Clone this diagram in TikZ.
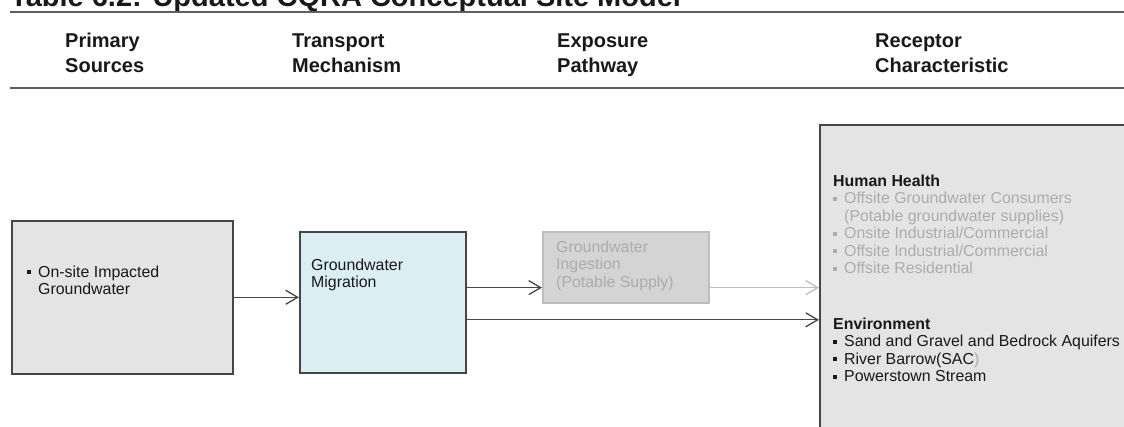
\documentclass[tikz,border=0pt]{standalone}
\usepackage{fontspec}
\setmainfont{Liberation Sans}
\usepackage{tikz}
\usetikzlibrary{arrows.meta, positioning}
\definecolor{boxGray}{RGB}{228, 228, 228}
\definecolor{edgeGray}{RGB}{70, 70, 70}
\definecolor{migBlue}{RGB}{219, 238, 244}
\definecolor{fadeFill}{RGB}{212, 212, 212}
\definecolor{fadeEdge}{RGB}{190, 190, 190}
\definecolor{fadeText}{RGB}{172, 172, 172}
\definecolor{ruleGray}{RGB}{95, 95, 95}
\definecolor{inkDark}{RGB}{25, 25, 25}
\newcommand{\bitem}{\makebox[11pt][l]{\raisebox{0.2em}{\rule{4pt}{4pt}}}}
\newcommand{\bgap}{\hspace*{11pt}}

\begin{document}
\begin{tikzpicture}[
    x=1pt, y=1pt,
    box/.style={rectangle, draw=edgeGray, line width=1.6pt, inner sep=0pt, anchor=north west},
    txt/.style={anchor=north west, inner sep=0pt, align=left, text=inkDark, font=\fontsize{15.9}{17.5}\selectfont},
    head/.style={anchor=north west, inner sep=0pt, align=left, text=inkDark, font=\fontsize{20}{25}\selectfont\bfseries},
    flow/.style={-{Straight Barb[length=12pt, width=14pt]}, line width=1.3pt, edgeGray},
    flow_faded/.style={flow, fadeEdge}
]
    \path[use as bounding box, clip] (0,0) rectangle (1124,-426);

    % Title and header rules
    \node[anchor=base west, inner sep=0pt, text=inkDark, font=\fontsize{29}{34}\selectfont\bfseries] (title) at (10,-6.7) {Table 6.2: Updated CQRA Conceptual Site Model};
    \draw[ruleGray, line width=2pt] (10,-11.5) -- (1124,-11.5);
    \draw[ruleGray, line width=2pt] (10,-88) -- (1124,-88);

    % Column headings
    \node[head] (hsrc) at (65,-33.2) {Primary\\Sources};
    \node[head] (htrans) at (292,-33.2) {Transport\\Mechanism};
    \node[head] (hexp) at (557,-33.2) {Exposure\\Pathway};
    \node[head] (hrec) at (875,-33.2) {Receptor\\Characteristic};

    % Boxes (left to right)
    \node[box, fill=boxGray, minimum width=221pt, minimum height=153pt] (src) at (11,-220) {};
    \node[box, fill=migBlue, minimum width=166pt, minimum height=141pt] (mig) at (299,-231) {};
    \node[box, fill=fadeFill, draw=fadeEdge, minimum width=166pt, minimum height=71pt] (ing) at (542,-231) {};
    \node[box, fill=boxGray, minimum width=330pt, minimum height=330pt] (rec) at (819,-124) {};

    % Box texts
    \node[txt, below right=45.5pt and 16pt of src.north west] (srctxt) {\bitem On-site Impacted\\\bgap Groundwater};
    \node[txt, below right=27.5pt and 12pt of mig.north west] (migtxt) {Groundwater\\Migration};
    \node[txt, text=fadeText, below right=9.5pt and 14pt of ing.north west] (ingtxt) {Groundwater\\Ingestion\\(Potable Supply)};
    \node[txt, below right=50.5pt and 14pt of rec.north west] (health) {
        \textbf{Human Health}\\
        \textcolor{fadeText}{\bitem Offsite Groundwater Consumers}\\
        \textcolor{fadeText}{\bgap(Potable groundwater supplies)}\\
        \textcolor{fadeText}{\bitem Onsite Industrial/Commercial}\\
        \textcolor{fadeText}{\bitem Offsite Industrial/Commercial}\\
        \textcolor{fadeText}{\bitem Offsite Residential}
    };
    \node[txt, below right=193.5pt and 14pt of rec.north west] (environ) {
        \textbf{Environment}\\
        \bitem Sand and Gravel and Bedrock Aquifers\\
        \bitem River Barrow(SAC\textcolor{fadeText}{)}\\
        \bitem Powerstown Stream
    };

    % Connectors
    \draw[flow] (src.east) -- (src.east -| mig.west);
    \draw[flow] ([yshift=16pt]ing.south west -| mig.east) -- ([yshift=16pt]ing.south west);
    \draw[flow_faded] ([yshift=16pt]ing.south east) -- ([yshift=16pt]ing.south east -| rec.west);
    \draw[flow] ([yshift=-17.5pt]mig.east) -- ([yshift=-17.5pt]mig.east -| rec.west);
\end{tikzpicture}
\end{document}
